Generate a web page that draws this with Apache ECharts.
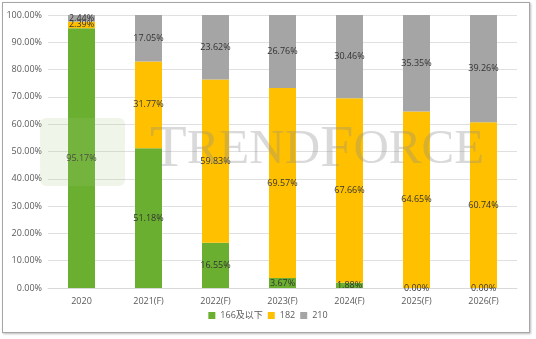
<!DOCTYPE html>
<html><head><meta charset="utf-8">
<script src="https://cdn.jsdelivr.net/npm/echarts@6/dist/echarts.min.js"></script>
<style>
html,body{margin:0;padding:0;background:#fff;}
#frame{position:absolute;left:2px;top:2px;width:526px;height:329px;border:1px solid #a6a6a6;box-shadow:1px 1px 2px #bbb;}
#c{position:absolute;left:0;top:0;width:536px;height:339px;}
</style></head>
<body>
<div id="frame"></div>
<div id="c"></div>
<script>
var categories = ['2020','2021(F)','2022(F)','2023(F)','2024(F)','2025(F)','2026(F)'];
var s166 = [95.17, 51.18, 16.55, 3.67, 1.88, 0.00, 0.00];
var s182 = [2.39, 31.77, 59.83, 69.57, 67.66, 64.65, 60.74];
var s210 = [2.44, 17.05, 23.62, 26.76, 30.46, 35.35, 39.26];
var seriesNames = ['166及以下','182','210'];
var colors = ['#6aaf2f','#ffc000','#a5a5a5'];

var chart = echarts.init(document.getElementById('c'));
var font = '"Open Sans", "Noto Sans CJK SC", sans-serif';
function mk(name, data, color){
  return {
    name: name, type: 'bar', stack: 'total', data: data, barWidth: 27,
    itemStyle: {color: color},
    label: {show: true, position: 'inside', formatter: function(p){return p.value.toFixed(2)+'%';},
      color: '#333', fontSize: 9, fontFamily: font}
  };
}
chart.setOption({
  animation: false,
  textStyle: {fontFamily: font},
  grid: {left: 48, right: 19, top: 15, bottom: 51, containLabel: false},
  xAxis: {type: 'category', data: categories,
    axisLine: {lineStyle: {color: '#d9d9d9'}}, axisTick: {show: false},
    axisLabel: {color: '#595959', fontSize: 9, margin: 9, fontFamily: font}},
  yAxis: {type: 'value', min: 0, max: 100, interval: 10,
    axisLabel: {formatter: function(v){return v.toFixed(2)+'%';}, color: '#595959', fontSize: 9, margin: 6, fontFamily: font},
    splitLine: {lineStyle: {color: '#e0e0e0'}}, axisLine: {show: false}, axisTick: {show: false}},
  legend: {bottom: 14, left: 'center', itemWidth: 7, itemHeight: 7, itemGap: 5,
    icon: 'rect', textStyle: {color: '#595959', fontSize: 9, fontFamily: font},
    data: seriesNames},
  graphic: [
    {type: 'rect', left: 40, top: 118, z: 100, silent: true,
     shape: {width: 85, height: 68, r: 6}, style: {fill: 'rgba(170,200,140,0.18)'}},
    {type: 'text', left: 150, top: 120, z: 100, silent: true,
    style: {
      text: '{b|T}{s|REND}{b|F}{s|ORCE}',
      rich: {
        b: {fontFamily: '"Liberation Serif", "DejaVu Serif", serif', fontSize: 60, fill: 'rgba(140,140,140,0.33)'},
        s: {fontFamily: '"Liberation Serif", "DejaVu Serif", serif', fontSize: 49, fill: 'rgba(140,140,140,0.33)'}
      }
    }
  }],
  series: [mk(seriesNames[0], s166, colors[0]), mk(seriesNames[1], s182, colors[1]), mk(seriesNames[2], s210, colors[2])]
});
</script>
</body></html>
